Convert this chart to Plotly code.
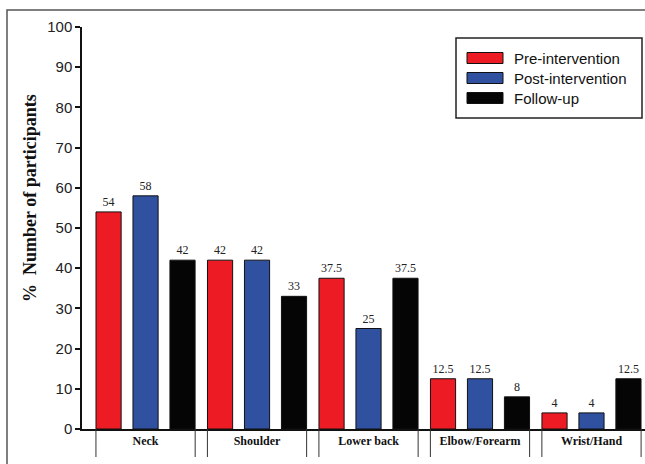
import plotly.graph_objects as go

categories = ["Neck", "Shoulder", "Lower back", "Elbow/Forearm", "Wrist/Hand"]
series_names = ["Pre-intervention", "Post-intervention", "Follow-up"]
pre_values = [54, 42, 37.5, 12.5, 4]
post_values = [58, 42, 25, 12.5, 4]
follow_values = [42, 33, 37.5, 8, 12.5]
colors = ["#ED1C24", "#3050A0", "#050505"]
y_ticks = [0, 10, 20, 30, 40, 50, 60, 70, 80, 90, 100]

W, H = 645, 464
L, R, T, B = 82, 0, 27, 35
PW, PH = W - L - R, H - T - B


def px(x):
    return (x - L) / PW


def py(y):
    return (H - B - y) / PH


fig = go.Figure()
for name, vals, col in zip(series_names, [pre_values, post_values, follow_values], colors):
    fig.add_trace(go.Bar(
        x=categories, y=vals, name=name,
        marker=dict(color=col, line=dict(color="#111", width=1)),
        text=[f"{v:g}" for v in vals], textposition="outside",
        textfont=dict(family="Liberation Serif", size=12, color="#222"),
        cliponaxis=False, showlegend=False,
    ))

shapes = []
# outer frame (partially cropped in the reference)
shapes.append(dict(type="rect", xref="paper", yref="paper",
                   x0=px(7), x1=px(W + 20), y0=py(10), y1=py(H + 20),
                   line=dict(color="#555", width=1.5), layer="below"))
# category cell dividers under the axis
half = 0.445
for i in range(len(categories)):
    for s in (-1, 1):
        shapes.append(dict(type="line", xref="x", yref="paper",
                           x0=i + s * half, x1=i + s * half, y0=0, y1=py(457),
                           line=dict(color="#333", width=1)))
# manual legend
shapes.append(dict(type="rect", xref="paper", yref="paper",
                   x0=px(456), x1=px(642), y0=py(38), y1=py(118),
                   line=dict(color="#222", width=1.5), fillcolor="white"))
annotations = []
row_y = [58, 78, 98]
for name, col, ry in zip(series_names, colors, row_y):
    shapes.append(dict(type="rect", xref="paper", yref="paper",
                       x0=px(467), x1=px(503), y0=py(ry - 5.5), y1=py(ry + 5.5),
                       line=dict(color="#111", width=1), fillcolor=col))
    annotations.append(dict(xref="paper", yref="paper", x=px(512), y=py(ry),
                            text=name, showarrow=False, xanchor="left", yanchor="middle",
                            font=dict(family="Liberation Sans", size=15, color="#111")))

annotations.append(dict(xref="paper", yref="paper", x=px(30), y=py(198),
                        text="%  Number of participants", textangle=-90, showarrow=False,
                        xanchor="center", yanchor="middle",
                        font=dict(family="Liberation Serif", size=18, color="#111", weight="bold")))

fig.update_layout(
    width=W, height=H, margin=dict(l=L, r=R, t=T, b=B),
    paper_bgcolor="white", plot_bgcolor="white",
    barmode="group", bargap=0.005, bargroupgap=0.32,
    shapes=shapes, annotations=annotations, showlegend=False,
)
fig.update_xaxes(
    range=[-0.57, 4.48], showline=True, linecolor="#111", linewidth=1.5,
    ticks="", showgrid=False, zeroline=False,
    tickfont=dict(family="Liberation Serif", size=12, color="#111", weight="bold"),
)
fig.update_yaxes(
    range=[0, 100], tickvals=y_ticks, showline=True, linecolor="#111", linewidth=1.5,
    ticks="outside", ticklen=5, tickcolor="#111", tickwidth=1.5,
    showgrid=False, zeroline=False,
    tickfont=dict(family="Liberation Sans", size=15, color="#222"),
)

fig.write_html("out.html", config={"displayModeBar": False},
               post_script="document.body.style.margin='0';document.body.style.overflow='hidden';")
